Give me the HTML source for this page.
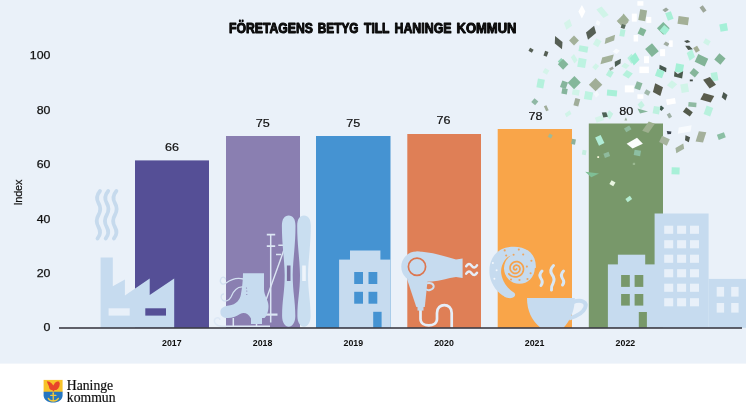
<!DOCTYPE html>
<html lang="sv">
<head>
<meta charset="utf-8">
<title>Företagens betyg till Haninge kommun</title>
<style>
html,body{margin:0;padding:0;background:#fff;}
body{width:746px;height:419px;overflow:hidden;position:relative;font-family:"Liberation Sans",sans-serif;}
svg{display:block;position:absolute;left:0;top:0;}
text{font-family:"Liberation Sans",sans-serif;fill:#111;}
text.serif{font-family:"Liberation Serif",serif;}
</style>
</head>
<body>
<svg width="746" height="419" viewBox="0 0 746 419">
<defs>
<filter id="soft" x="-2%" y="-2%" width="104%" height="104%"><feGaussianBlur stdDeviation="0.5"/></filter>
</defs>
<rect x="0" y="0" width="746" height="419" fill="#ffffff"/>
<g filter="url(#soft)">
<rect x="-5" y="-5" width="756" height="368.6" fill="#eaf1f9"/>
<!-- title -->
<g font-size="14.2" font-weight="700" fill="#000" stroke="#000" stroke-width="0.95" stroke-linejoin="round" style="fill:#000">
<text x="229" y="33.1" textLength="84.0" lengthAdjust="spacingAndGlyphs">FÖRETAGENS</text><text x="317.8" y="33.1" textLength="40.7" lengthAdjust="spacingAndGlyphs">BETYG</text><text x="364" y="33.1" textLength="25.5" lengthAdjust="spacingAndGlyphs">TILL</text><text x="394.5" y="33.1" textLength="57.0" lengthAdjust="spacingAndGlyphs">HANINGE</text><text x="456.5" y="33.1" textLength="60.0" lengthAdjust="spacingAndGlyphs">KOMMUN</text>
</g>
<!-- y axis labels -->
<g font-size="11.4" text-anchor="end" stroke="#111" stroke-width="0.25">
<text x="50.4" y="59.2" textLength="20.6" lengthAdjust="spacingAndGlyphs">100</text>
<text x="50.4" y="113.7" textLength="13.7" lengthAdjust="spacingAndGlyphs">80</text>
<text x="50.4" y="168.1" textLength="13.7" lengthAdjust="spacingAndGlyphs">60</text>
<text x="50.4" y="222.5" textLength="13.7" lengthAdjust="spacingAndGlyphs">40</text>
<text x="50.4" y="276.9" textLength="13.7" lengthAdjust="spacingAndGlyphs">20</text>
<text x="50.4" y="331.2" textLength="6.9" lengthAdjust="spacingAndGlyphs">0</text>
</g>
<text transform="translate(22.3,205.5) rotate(-90)" font-size="11" textLength="26" stroke="#111" stroke-width="0.2">Index</text>
<!-- bars -->
<rect x="135" y="160.4" width="74" height="167.6" fill="#544f96"/>
<rect x="226" y="136" width="74" height="192" fill="#8a7fb1"/>
<rect x="316" y="136" width="74.5" height="192" fill="#4593d2"/>
<rect x="407.3" y="134" width="73.7" height="194" fill="#df7f57"/>
<rect x="497.7" y="129" width="74.3" height="199" fill="#f9a549"/>
<rect x="588.8" y="123.5" width="74.2" height="204.5" fill="#78986b"/>
<!-- value labels -->
<g font-size="11.4" text-anchor="middle" stroke="#111" stroke-width="0.2">
<text x="172" y="150.8" textLength="14" lengthAdjust="spacingAndGlyphs">66</text>
<text x="262.7" y="127.2" textLength="14" lengthAdjust="spacingAndGlyphs">75</text>
<text x="353.2" y="127.2" textLength="14" lengthAdjust="spacingAndGlyphs">75</text>
<text x="443.6" y="124.2" textLength="14" lengthAdjust="spacingAndGlyphs">76</text>
<text x="535.4" y="120" textLength="14" lengthAdjust="spacingAndGlyphs">78</text>
<text x="626.2" y="115" textLength="14" lengthAdjust="spacingAndGlyphs">80</text>
</g>
<!-- icons -->
<g id="icons">
<path d="M100.0,191 q-5,6 -1.5,12 q3.5,6 0,12 q-3.5,6 0,12 q3.5,6 -1,11.5" fill="none" stroke="#c6daed" stroke-width="3.8" stroke-linecap="round"/>
<path d="M108.2,191 q-5,6 -1.5,12 q3.5,6 0,12 q-3.5,6 0,12 q3.5,6 -1,11.5" fill="none" stroke="#c6daed" stroke-width="3.8" stroke-linecap="round"/>
<path d="M116.4,191 q-5,6 -1.5,12 q3.5,6 0,12 q-3.5,6 0,12 q3.5,6 -1,11.5" fill="none" stroke="#c6daed" stroke-width="3.8" stroke-linecap="round"/>
<polygon points="100.6,257.6 112.8,257.6 112.8,286.3 124.9,279.6 124.9,295.5 149.7,278.6 149.7,294.9 174.2,278.6 174.2,327.8 100.6,327.8" fill="#c6dbef"/>
<rect x="108.6" y="308.3" width="21.1" height="7.3" fill="#e8f0f9"/>
<rect x="145.3" y="308.3" width="20.7" height="7.3" fill="#544f96"/>
<g stroke="#dbe6f4" fill="none" stroke-linecap="butt"><path d="M285,247 L266,300" stroke-width="1.4"/><path d="M278.3,245.3 h5.2 M276,254.6 h5.2" stroke-width="1.5"/><path d="M270.7,234.6 V322.5" stroke-width="1.5"/><path d="M266.8,234.6 h8.4 M266.8,246.2 h8.4" stroke-width="1.8"/><path d="M265.5,314.6 h12" stroke-width="2.2"/></g>
<path d="M288.7,215.5 C293.0,215.5 295.5,219 295.5,226 C295.5,245 292.9,260 292.7,275 C292.7,292 295.3,300 295.3,316 C295.3,322.5 292.3,326.8 288.7,326.8 C285.09999999999997,326.8 282.09999999999997,322.5 282.09999999999997,316 C282.09999999999997,300 284.7,292 284.7,275 C284.5,260 281.9,245 281.9,226 C281.9,219 284.4,215.5 288.7,215.5 Z" fill="#c6dbef"/><rect x="286.9" y="265.5" width="3.6" height="15.5" fill="#7a6e9f"/>
<path d="M304.0,215.5 C308.3,215.5 310.8,219 310.8,226 C310.8,245 308.2,260 308.0,275 C308.0,292 310.6,300 310.6,316 C310.6,322.5 307.6,326.8 304.0,326.8 C300.4,326.8 297.4,322.5 297.4,316 C297.4,300 300.0,292 300.0,275 C299.8,260 297.2,245 297.2,226 C297.2,219 299.7,215.5 304.0,215.5 Z" fill="#c9def0"/><rect x="302.2" y="265.5" width="3.6" height="15.5" fill="#eef4fb"/>
<g stroke="#d3e1f1" fill="none" stroke-width="1.3" stroke-linecap="round"><path d="M243.5,279 C236,277 230,280 226,283 C222,286 219,282 221,278.5 C222,276.5 225,276.5 225.5,279"/><path d="M243.5,287 C236,286 233,292 231,297 C229,301 225,302 222.5,300 C220,298 221,294 223.5,294"/></g>
<path d="M243,273.2 L264,273.2 L264,289 C264,296 268.5,300 268.5,306 C268.5,312 266.5,316 264.5,318 L262,318 L262,324 L251,324 L251,318.5 C248,313 244,312 240,314 C236,316.5 232,318 228,318 C223,318 220.4,316 220.4,312 C220.4,308 224,306 229,305.5 C236,304.5 240,300 241,294 C242,288 243,280 243,273.2 Z" fill="#c6dbef"/>
<circle cx="246.5" cy="288" r="0.6" fill="#8a7fb1"/><circle cx="246.8" cy="291" r="0.6" fill="#8a7fb1"/><circle cx="246.8" cy="294.5" r="0.6" fill="#8a7fb1"/>
<g stroke="#dde8f5" fill="none" stroke-width="1.5"><path d="M270,326.3 H222 C216,326.3 213,322 215,319 C216.5,316.8 220,317.5 220,320"/><path d="M233.3,318 V326 M256.5,324 V326"/></g>
<rect x="339.1" y="259.6" width="51.3" height="68.2" fill="#c6dbef"/>
<rect x="350.0" y="250.5" width="30.4" height="9.5" fill="#c6dbef"/>
<rect x="354.2" y="272.0" width="8.8" height="12.0" fill="#4593d2"/>
<rect x="354.2" y="291.8" width="8.8" height="11.9" fill="#4593d2"/>
<rect x="368.5" y="272.0" width="8.8" height="12.0" fill="#4593d2"/>
<rect x="368.5" y="291.8" width="8.8" height="11.9" fill="#4593d2"/>
<rect x="373.2" y="311.8" width="8.4" height="16.0" fill="#4593d2"/>
<path d="M420.5,310 V319 C420.5,327.5 437,327.5 437,319 V313 C437,302.5 451.7,302.5 451.7,313 V327.5" fill="none" stroke="#e6eef8" stroke-width="2.7"/>
<path d="M427,283.2 C434.5,282 436,288.5 430,290 C428,290.5 426.8,290 426,289" fill="none" stroke="#cfe0f0" stroke-width="2"/>
<path d="M407,279 L427.5,281 L424.8,307 L416.3,307 Z" fill="#c6dbef"/>
<rect x="417.5" y="306.0" width="6.0" height="4.6" fill="#c6dbef"/>
<circle cx="416.5" cy="266.8" r="15.2" fill="#c6dbef"/>
<path d="M416.5,251.6 C432,251.6 445,257 456,259.5 L462.6,258.5 L462.6,278 L456,277 C448,278 440,281 432,281.5 L416.5,282 Z" fill="#c6dbef"/>
<circle cx="417" cy="266.8" r="8.6" fill="none" stroke="#dc7650" stroke-width="1.7"/>
<g fill="none" stroke="#e6eef8" stroke-width="2.5" stroke-linecap="round"><path d="M466.2,266.2 q2.7,-4 5.4,-0.4 t5.4,-0.4"/><path d="M466.2,273.6 q2.7,-4 5.4,-0.4 t5.4,-0.4"/></g>
<path d="M507,297.8 C499,294.5 491.5,286 489.8,276 C488,264 492.5,253.5 502,249 C511,245 524,246 530.5,252.5 C534.5,256.5 536.2,262 535.8,268 L530,268 C528,258 520,254 512,255.5 C509,256 507.5,257 506.2,258.5 C502,263 500.5,269 501.3,274 C502.5,282 508,289 514.5,293 C516.5,295.5 514,299.5 507,297.8 Z" fill="#c6dbef"/>
<circle cx="519.4" cy="268.3" r="15.4" fill="#c6dbef"/>
<path d="M516.6,268.9 L516.5,269.0 L516.5,269.2 L516.4,269.3 L516.3,269.5 L516.1,269.6 L515.9,269.7 L515.7,269.8 L515.4,269.9 L515.2,269.8 L514.9,269.8 L514.6,269.7 L514.4,269.5 L514.1,269.3 L513.9,269.0 L513.8,268.7 L513.6,268.3 L513.6,268.0 L513.6,267.6 L513.7,267.2 L513.8,266.8 L514.1,266.4 L514.4,266.1 L514.7,265.8 L515.1,265.5 L515.6,265.3 L516.1,265.2 L516.6,265.2 L517.2,265.3 L517.7,265.5 L518.2,265.7 L518.7,266.0 L519.1,266.5 L519.4,267.0 L519.7,267.5 L519.9,268.1 L520.0,268.8 L519.9,269.5 L519.8,270.1 L519.5,270.8 L519.2,271.4 L518.7,272.0 L518.2,272.4 L517.5,272.8 L516.8,273.1 L516.0,273.3 L515.2,273.3 L514.4,273.3 L513.6,273.1 L512.9,272.7 L512.2,272.2 L511.5,271.6 L511.0,270.9 L510.5,270.1 L510.2,269.3 L510.1,268.4 L510.1,267.4 L510.2,266.5 L510.5,265.5 L511.0,264.7 L511.6,263.9 L512.3,263.2 L513.2,262.6 L514.1,262.1 L515.1,261.8 L516.2,261.7 L517.3,261.7 L518.3,261.9 L519.4,262.3 L520.4,262.9 L521.3,263.6 L522.0,264.5 L522.7,265.5 L523.1,266.6 L523.4,267.8 L523.5,269.0 L523.4,270.2 L523.1,271.4 L522.6,272.6 L521.9,273.7 L521.1,274.6 L520.0,275.5 L518.9,276.1 L517.6,276.6 L516.3,276.8 L515.0,276.9 L513.6,276.7 L512.2,276.3 L511.0,275.7 L509.8,274.9 L508.8,273.9" fill="none" stroke="#f6a24c" stroke-width="1.7" stroke-linecap="round"/>
<circle cx="504.7" cy="250.4" r="1.05" fill="#eea55e"/>
<circle cx="518.8" cy="249.6" r="1.05" fill="#eea55e"/>
<circle cx="506.2" cy="255.5" r="1.05" fill="#eea55e"/>
<circle cx="513.6" cy="254.8" r="1.05" fill="#eea55e"/>
<circle cx="523.2" cy="254.5" r="1.05" fill="#eea55e"/>
<circle cx="531.4" cy="260.7" r="1.05" fill="#eea55e"/>
<circle cx="526.9" cy="266.6" r="1.05" fill="#eea55e"/>
<circle cx="530.6" cy="273.3" r="1.05" fill="#eea55e"/>
<circle cx="519.5" cy="280" r="1.05" fill="#eea55e"/>
<circle cx="511" cy="279.5" r="1.05" fill="#eea55e"/>
<circle cx="527.5" cy="279" r="1.05" fill="#eea55e"/>
<circle cx="492.9" cy="263" r="1" fill="#f2f7fc"/>
<circle cx="496.6" cy="270.3" r="1" fill="#f2f7fc"/>
<circle cx="494.4" cy="278.8" r="1" fill="#f2f7fc"/>
<g fill="none" stroke="#d9e7f4" stroke-width="3" stroke-linecap="round"><path d="M542,271 q-3.5,3.5 -1,7.5 q2.5,3.5 0,7"/><path d="M553.5,265.5 q-4.5,4.5 -1.5,9 q3.5,4.5 1,9 q-2,3 -1.5,6.5"/><path d="M563.5,271 q-3.5,3.5 -1,7.5 q2.5,3.5 0,6.5"/></g>
<path d="M573,302 C582,299 587.5,302.5 585,308 C583,313 576,316.5 569,318.5" fill="none" stroke="#c6dbef" stroke-width="4"/>
<path d="M527,298.1 L574.8,298.1 C574.8,311 570,321 563.5,327.8 L540.5,327.8 C532,321 527,311 527,298.1 Z" fill="#c6dbef"/>
<rect x="654.6" y="213.5" width="54.0" height="114.3" fill="#c6dbef"/>
<rect x="607.9" y="264.4" width="47.1" height="63.4" fill="#c6dbef"/>
<rect x="617.9" y="254.7" width="27.3" height="10.3" fill="#c6dbef"/>
<rect x="708.5" y="278.9" width="37.5" height="48.9" fill="#c6dbef"/>
<rect x="621.1" y="275.0" width="8.7" height="11.9" fill="#78986b"/>
<rect x="621.1" y="294.0" width="8.7" height="11.6" fill="#78986b"/>
<rect x="634.6" y="275.0" width="8.7" height="11.9" fill="#78986b"/>
<rect x="634.6" y="294.0" width="8.7" height="11.6" fill="#78986b"/>
<rect x="638.8" y="312.0" width="8.1" height="15.8" fill="#78986b"/>
<rect x="664.2" y="225.7" width="9.0" height="8.1" fill="#e8f0f9"/>
<rect x="664.2" y="240.2" width="9.0" height="8.1" fill="#e8f0f9"/>
<rect x="664.2" y="254.7" width="9.0" height="8.1" fill="#e8f0f9"/>
<rect x="664.2" y="269.2" width="9.0" height="8.1" fill="#e8f0f9"/>
<rect x="664.2" y="283.7" width="9.0" height="8.1" fill="#e8f0f9"/>
<rect x="664.2" y="298.2" width="9.0" height="8.1" fill="#e8f0f9"/>
<rect x="677.1" y="225.7" width="9.0" height="8.1" fill="#e8f0f9"/>
<rect x="677.1" y="240.2" width="9.0" height="8.1" fill="#e8f0f9"/>
<rect x="677.1" y="254.7" width="9.0" height="8.1" fill="#e8f0f9"/>
<rect x="677.1" y="269.2" width="9.0" height="8.1" fill="#e8f0f9"/>
<rect x="677.1" y="283.7" width="9.0" height="8.1" fill="#e8f0f9"/>
<rect x="677.1" y="298.2" width="9.0" height="8.1" fill="#e8f0f9"/>
<rect x="690.0" y="225.7" width="9.0" height="8.1" fill="#e8f0f9"/>
<rect x="690.0" y="240.2" width="9.0" height="8.1" fill="#e8f0f9"/>
<rect x="690.0" y="254.7" width="9.0" height="8.1" fill="#e8f0f9"/>
<rect x="690.0" y="269.2" width="9.0" height="8.1" fill="#e8f0f9"/>
<rect x="690.0" y="283.7" width="9.0" height="8.1" fill="#e8f0f9"/>
<rect x="690.0" y="298.2" width="9.0" height="8.1" fill="#e8f0f9"/>
<rect x="716.7" y="286.9" width="7.4" height="9.7" fill="#e8f0f9"/>
<rect x="716.7" y="303.0" width="7.4" height="9.6" fill="#e8f0f9"/>
<rect x="731.2" y="286.9" width="7.4" height="9.7" fill="#e8f0f9"/>
<rect x="731.2" y="303.0" width="7.4" height="9.6" fill="#e8f0f9"/>
</g>
<!-- axis -->
<rect x="59" y="327.2" width="683" height="1.6" fill="#3c3c46"/>
<!-- years -->
<g font-size="9.6" font-weight="700" text-anchor="middle">
<text x="171.8" y="346.3" textLength="19.6" lengthAdjust="spacingAndGlyphs">2017</text><text x="262.6" y="346.3" textLength="19.6" lengthAdjust="spacingAndGlyphs">2018</text><text x="353.3" y="346.3" textLength="19.6" lengthAdjust="spacingAndGlyphs">2019</text><text x="444" y="346.3" textLength="19.6" lengthAdjust="spacingAndGlyphs">2020</text><text x="534.6" y="346.3" textLength="19.6" lengthAdjust="spacingAndGlyphs">2021</text><text x="625.4" y="346.3" textLength="19.6" lengthAdjust="spacingAndGlyphs">2022</text>
</g>
<!-- confetti -->
<g id="confetti">
<rect x="-5.5" y="-3.0" width="11" height="6" fill="#d0f4e8" transform="translate(602.5,12.2) rotate(50) skewX(-10)"/>
<rect x="-3.5" y="-3.5" width="7" height="7" fill="#d5f4ea" transform="translate(568,24.4) rotate(-35) skewX(-15)"/>
<rect x="-3.5" y="-3.5" width="7" height="7" fill="#a3b19a" transform="translate(574,40.5) rotate(45) skewX(0)"/>
<rect x="-5.0" y="-2.5" width="10" height="5" fill="#a3b19a" transform="translate(609.9,39.4) rotate(-20) skewX(-30)"/>
<rect x="-4.5" y="-4.0" width="9" height="8" fill="#a3b19a" transform="translate(622.7,21.4) rotate(45) skewX(0)"/>
<rect x="-2.0" y="-2.0" width="4" height="4" fill="#5b6e5e" transform="translate(623.2,26.5) rotate(20) skewX(0)"/>
<rect x="-2.5" y="-3.5" width="5" height="7" fill="#b8f1dd" transform="translate(622.4,32.9) rotate(10) skewX(0)"/>
<rect x="-3.0" y="-3.5" width="6" height="7" fill="#d0f4e8" transform="translate(597.2,42.8) rotate(30) skewX(0)"/>
<rect x="-4.5" y="-3.0" width="9" height="6" fill="#b8f1dd" transform="translate(583.4,48.9) rotate(10) skewX(0)"/>
<rect x="-2.0" y="-1.8" width="4" height="3.5" fill="#555f54" transform="translate(531,50.4) rotate(30) skewX(0)"/>
<rect x="-1.8" y="-2.5" width="3.5" height="5" fill="#555f54" transform="translate(546,53.8) rotate(20) skewX(0)"/>
<rect x="-2.0" y="-2.0" width="4" height="4" fill="#f6fafd" transform="translate(598,23) rotate(30) skewX(10)"/>
<rect x="-6.0" y="-3.0" width="12" height="6" fill="#a3b19a" transform="translate(607.1,59.3) rotate(-15) skewX(-30)"/>
<rect x="-3.5" y="-2.5" width="7" height="5" fill="#94d6b8" transform="translate(562,62.3) rotate(45) skewX(0)"/>
<rect x="-2.2" y="-3.5" width="4.5" height="7" fill="#d0f4e8" transform="translate(574.2,58.8) rotate(-45) skewX(-15)"/>
<rect x="-3.0" y="-3.5" width="6" height="7" fill="#b8f1dd" transform="translate(631.5,58.8) rotate(-45) skewX(-10)"/>
<rect x="-2.2" y="-2.2" width="4.5" height="4.5" fill="#f8fbfe" transform="translate(616.3,51.2) rotate(30) skewX(-15)"/>
<rect x="-3.5" y="-5.5" width="7" height="11" fill="#9fae96" transform="translate(642.7,15.3) rotate(10) skewX(0)"/>
<rect x="-3.0" y="-2.2" width="6" height="4.5" fill="#ffffff" transform="translate(640.4,3.4) rotate(0) skewX(0)"/>
<rect x="-2.5" y="-4.0" width="5" height="8" fill="#ffffff" transform="translate(634.3,17.6) rotate(0) skewX(0)"/>
<rect x="-2.5" y="-3.0" width="5" height="6" fill="#ffffff" transform="translate(648.8,19.9) rotate(0) skewX(0)"/>
<rect x="-2.2" y="-1.8" width="4.5" height="3.5" fill="#9ba79c" transform="translate(665.6,9.9) rotate(-35) skewX(15)"/>
<rect x="-3.0" y="-4.0" width="6" height="8" fill="#a8efd6" transform="translate(669.4,16) rotate(-20) skewX(0)"/>
<rect x="-5.2" y="-4.0" width="10.5" height="8" fill="#a4b097" transform="translate(683.2,20.6) rotate(8) skewX(0)"/>
<rect x="-2.0" y="-3.2" width="4" height="6.5" fill="#9da79a" transform="translate(703,8.9) rotate(-35) skewX(0)"/>
<rect x="-3.8" y="-3.8" width="7.5" height="7.5" fill="#a5f0d8" transform="translate(723.7,27.5) rotate(-10) skewX(0)"/>
<rect x="-4.5" y="-4.5" width="9" height="9" fill="#7fb89a" transform="translate(663.3,28.3) rotate(45) skewX(0)"/>
<rect x="-3.5" y="-3.5" width="7" height="7" fill="#a5efd5" transform="translate(664.6,30) rotate(40) skewX(0)"/>
<rect x="-3.2" y="-3.5" width="6.5" height="7" fill="#82b698" transform="translate(641.9,31.8) rotate(25) skewX(0)"/>
<rect x="-2.2" y="-3.2" width="4.5" height="6.5" fill="#ffffff" transform="translate(635.8,38.2) rotate(0) skewX(0)"/>
<rect x="-2.2" y="-1.8" width="4.5" height="3.5" fill="#a0aca0" transform="translate(666.4,44) rotate(30) skewX(-10)"/>
<rect x="-1.8" y="-3.2" width="3.5" height="6.5" fill="#ffffff" transform="translate(671,43.6) rotate(0) skewX(0)"/>
<rect x="-2.2" y="-2.8" width="4.5" height="5.5" fill="#a3ad93" transform="translate(696.5,49.2) rotate(-30) skewX(0)"/>
<rect x="-3.0" y="-2.5" width="6" height="5" fill="#d0f4e8" transform="translate(706.9,42) rotate(30) skewX(0)"/>
<rect x="-5.2" y="-4.5" width="10.5" height="9" fill="#82b599" transform="translate(651.9,50.1) rotate(50) skewX(0)"/>
<rect x="-2.5" y="-3.5" width="5" height="7" fill="#ffffff" transform="translate(662.6,52.7) rotate(0) skewX(0)"/>
<rect x="-3.2" y="-4.0" width="6.5" height="8" fill="#b5f2dd" transform="translate(690.8,55) rotate(-35) skewX(-15)"/>
<rect x="-5.5" y="-4.2" width="11" height="8.5" fill="#82b497" transform="translate(701.5,60.2) rotate(25) skewX(0)"/>
<rect x="-4.0" y="-4.0" width="8" height="8" fill="#82b497" transform="translate(719.9,59) rotate(40) skewX(0)"/>
<rect x="-4.0" y="-4.0" width="8" height="8" fill="#9eeed3" transform="translate(634.6,59) rotate(-45) skewX(-15)"/>
<rect x="-2.5" y="-3.5" width="5" height="7" fill="#ffffff" transform="translate(646.5,59.7) rotate(0) skewX(0)"/>
<rect x="-3.8" y="-3.8" width="7.5" height="7.5" fill="#84b79b" transform="translate(563.1,64.4) rotate(45) skewX(0)"/>
<rect x="-4.0" y="-4.5" width="8" height="9" fill="#bdf3e1" transform="translate(581.9,62.9) rotate(10) skewX(0)"/>
<rect x="-2.2" y="-2.8" width="4.5" height="5.5" fill="#d0f4e8" transform="translate(595.6,66.7) rotate(40) skewX(0)"/>
<rect x="-2.8" y="-3.2" width="5.5" height="6.5" fill="#b8f1dd" transform="translate(609.9,73.6) rotate(30) skewX(0)"/>
<rect x="-2.0" y="-1.2" width="4" height="2.5" fill="#9fa89f" transform="translate(611.4,68.5) rotate(-30) skewX(0)"/>
<rect x="-2.5" y="-2.8" width="5" height="5.5" fill="#d0f4e8" transform="translate(625.4,65.9) rotate(-45) skewX(15)"/>
<rect x="-3.5" y="-3.2" width="7" height="6.5" fill="#b5f1dc" transform="translate(627.7,74.3) rotate(30) skewX(-10)"/>
<rect x="-3.5" y="-4.5" width="7" height="9" fill="#b4f1dc" transform="translate(540.6,83.5) rotate(10) skewX(0)"/>
<rect x="-2.5" y="-2.5" width="5" height="5" fill="#d5f4ea" transform="translate(546,71.3) rotate(30) skewX(0)"/>
<rect x="-4.5" y="-4.8" width="9" height="9.5" fill="#84b79b" transform="translate(574.2,82.7) rotate(45) skewX(0)"/>
<rect x="-3.0" y="-3.5" width="6" height="7" fill="#86b59c" transform="translate(564,84.7) rotate(20) skewX(0)"/>
<rect x="-2.8" y="-2.8" width="5.5" height="5.5" fill="#86b59c" transform="translate(564.6,91.3) rotate(10) skewX(0)"/>
<rect x="-4.8" y="-4.8" width="9.5" height="9.5" fill="#a1ae97" transform="translate(595.6,84.7) rotate(45) skewX(0)"/>
<rect x="-3.5" y="-2.8" width="7" height="5.5" fill="#d0f4e8" transform="translate(575.8,92.4) rotate(10) skewX(0)"/>
<rect x="-4.0" y="-4.0" width="8" height="8" fill="#bdf3e1" transform="translate(588.5,95.7) rotate(10) skewX(0)"/>
<rect x="-5.0" y="-3.0" width="10" height="6" fill="#a8f0d8" transform="translate(612,93) rotate(5) skewX(0)"/>
<rect x="-4.5" y="-3.5" width="9" height="7" fill="#ffffff" transform="translate(629.3,88.9) rotate(0) skewX(0)"/>
<rect x="-2.5" y="-3.8" width="5" height="7.5" fill="#a0ad9a" transform="translate(576.8,102.3) rotate(15) skewX(0)"/>
<rect x="-2.5" y="-2.5" width="5" height="5" fill="#8fb8a4" transform="translate(534.8,101.8) rotate(40) skewX(0)"/>
<rect x="-1.4" y="-2.8" width="2.8" height="5.5" fill="#a0ad9a" transform="translate(546.3,108.3) rotate(-25) skewX(0)"/>
<rect x="-2.8" y="-3.2" width="5.5" height="6.5" fill="#c6f2e3" transform="translate(609.6,114.8) rotate(40) skewX(10)"/>
<rect x="-3.0" y="-2.0" width="6" height="4" fill="#d0f4e8" transform="translate(568.1,113.8) rotate(-35) skewX(-10)"/>
<rect x="-2.2" y="-2.2" width="4.5" height="4.5" fill="#f3f8fc" transform="translate(596.4,94.2) rotate(-45) skewX(-15)"/>
<rect x="-4.8" y="-3.2" width="9.5" height="6.5" fill="#ffffff" transform="translate(644.2,69.8) rotate(0) skewX(0)"/>
<rect x="-4.0" y="-4.2" width="8" height="8.5" fill="#a5f0d6" transform="translate(679.4,68.2) rotate(10) skewX(0)"/>
<rect x="-3.8" y="-2.0" width="7.5" height="4" fill="#47594f" transform="translate(662.9,68.6) rotate(25) skewX(20)"/>
<rect x="-3.8" y="-3.8" width="7.5" height="7.5" fill="#a5f0d6" transform="translate(659.8,73.6) rotate(20) skewX(0)"/>
<rect x="-3.5" y="-3.2" width="7" height="6.5" fill="#86b69b" transform="translate(694.3,72.8) rotate(40) skewX(0)"/>
<rect x="-3.2" y="-4.2" width="6.5" height="8.5" fill="#b5f1dc" transform="translate(714.5,76.6) rotate(-10) skewX(0)"/>
<rect x="-1.5" y="-0.9" width="3" height="1.8" fill="#3f4a45" transform="translate(691.3,80.4) rotate(0) skewX(0)"/>
<rect x="-3.0" y="-3.8" width="6" height="7.5" fill="#8bb89f" transform="translate(638.4,85.8) rotate(20) skewX(0)"/>
<rect x="-3.5" y="-3.2" width="7" height="6.5" fill="#d0f4e8" transform="translate(672,84.7) rotate(-45) skewX(10)"/>
<rect x="-3.8" y="-4.2" width="7.5" height="8.5" fill="#d0f4e8" transform="translate(684.7,88.1) rotate(-10) skewX(0)"/>
<rect x="-2.5" y="-2.2" width="5" height="4.5" fill="#a0b8aa" transform="translate(647.3,92.4) rotate(30) skewX(0)"/>
<rect x="-3.0" y="-2.2" width="6" height="4.5" fill="#ffffff" transform="translate(640.4,96.5) rotate(0) skewX(0)"/>
<rect x="-4.5" y="-2.8" width="9" height="5.5" fill="#ffffff" transform="translate(671,101.5) rotate(-10) skewX(0)"/>
<rect x="-4.0" y="-2.2" width="8" height="4.5" fill="#8fbaa2" transform="translate(692.4,104.6) rotate(5) skewX(0)"/>
<rect x="-3.5" y="-4.5" width="7" height="9" fill="#b8f1dd" transform="translate(708.4,111) rotate(20) skewX(0)"/>
<rect x="-2.0" y="-2.0" width="4" height="4" fill="#3f5a4f" transform="translate(661.3,108.2) rotate(40) skewX(0)"/>
<rect x="-3.2" y="-3.8" width="6.5" height="7.5" fill="#bdf1df" transform="translate(656.4,110.2) rotate(10) skewX(0)"/>
<rect x="-2.8" y="-2.8" width="5.5" height="5.5" fill="#c6f2e3" transform="translate(641.2,104.9) rotate(-45) skewX(-10)"/>
<rect x="-1.8" y="-2.2" width="3.5" height="4.5" fill="#9fb0a5" transform="translate(669.4,115.6) rotate(-30) skewX(0)"/>
<rect x="-1.8" y="-1.8" width="3.6" height="3.6" fill="#a0b996" transform="translate(550.3,136) rotate(30) skewX(0)"/>
<rect x="-2.0" y="-2.8" width="4" height="5.5" fill="#8db09a" transform="translate(573.5,141.8) rotate(10) skewX(0)"/>
<rect x="-2.0" y="-2.5" width="4" height="5" fill="#c5eee0" transform="translate(584.2,152.5) rotate(10) skewX(0)"/>
<rect x="-3.0" y="-4.5" width="6" height="9" fill="#b0ecd5" transform="translate(599.8,140.3) rotate(-25) skewX(0)"/>
<rect x="-2.8" y="-2.2" width="5.5" height="4.5" fill="#8fba9c" transform="translate(606.8,154.8) rotate(-20) skewX(0)"/>
<rect x="-0.9" y="-0.9" width="1.8" height="1.8" fill="#f5f6d8" transform="translate(598.2,157.1) rotate(0) skewX(0)"/>
<rect x="-3.0" y="-2.2" width="6" height="4.5" fill="#8fba9c" transform="translate(627.7,128.8) rotate(-30) skewX(0)"/>
<rect x="-4.0" y="-2.8" width="8" height="5.5" fill="#d6f4ea" transform="translate(599.5,118.9) rotate(-20) skewX(0)"/>
<rect x="-3.2" y="-5.5" width="6.5" height="11" fill="#9eb08f" transform="translate(648.5,127.3) rotate(20) skewX(-15)"/>
<rect x="-3.2" y="-2.8" width="6.5" height="5.5" fill="#8dbfa3" transform="translate(637.3,153) rotate(10) skewX(0)"/>
<rect x="-1.0" y="-1.0" width="2" height="2" fill="#9ab890" transform="translate(633.8,164) rotate(0) skewX(0)"/>
<rect x="-4.2" y="-3.5" width="8.5" height="7" fill="#a7b49e" transform="translate(664.4,140.7) rotate(25) skewX(0)"/>
<rect x="-6.5" y="-3.0" width="13" height="6" fill="#f8fbfe" transform="translate(684.7,129.6) rotate(-10) skewX(-20)"/>
<rect x="-3.8" y="-5.2" width="7.5" height="10.5" fill="#a4b09b" transform="translate(701,136.8) rotate(8) skewX(-10)"/>
<rect x="-3.8" y="-2.8" width="7.5" height="5.5" fill="#8bbfa4" transform="translate(721.4,136.1) rotate(-20) skewX(0)"/>
<rect x="-4.5" y="-2.5" width="9" height="5" fill="#a3b29c" transform="translate(679.8,148.4) rotate(-30) skewX(-20)"/>
<rect x="-4.0" y="-3.5" width="8" height="7" fill="#a8f0d8" transform="translate(675.6,170.8) rotate(2) skewX(0)"/>
<rect x="-2.2" y="-2.2" width="4.5" height="4.5" fill="#e8f5e0" transform="translate(612.4,183.2) rotate(30) skewX(0)"/>
<rect x="-2.8" y="-2.0" width="5.5" height="4" fill="#b5ecd0" transform="translate(628.8,199) rotate(-35) skewX(0)"/>
<rect x="-1.0" y="-1.0" width="2" height="2" fill="#9ab88f" transform="translate(634.1,163.8) rotate(0) skewX(0)"/>
<polygon points="626.6,143.7 637,137.7 642.9,143.7 632.6,148.6" fill="#fbfdfb"/>
<polygon points="625.9,117.2 627.2,120.6 624.4,120.4" fill="#9fb3a0"/>
<polygon points="581.9,5 585.4,11.5 581.9,18.5 578.4,11.5" fill="#ffffff"/>
<polygon points="594.1,25.7 596.1,32.9 588,39.7 586,32.4" fill="#565f54"/>
<polygon points="555.1,35.9 562.5,42 562,49.2 554.8,43.6" fill="#565f54"/>
<polygon points="614.7,61.8 620.9,58.8 620.5,63.6 615,67" fill="#4e6054"/>
<polygon points="684,41 687.8,40 690.4,42 686.6,43.1" fill="#4b544d"/>
<polygon points="685.2,45.8 689.3,45.8 692.8,49.2 688.2,50.1" fill="#4b544d"/>
<polygon points="674.5,71.3 677.8,74 683.2,71.3 682.1,78.6 674,76.6" fill="#4c5a4e"/>
<polygon points="703.1,79.7 709.9,77.1 716,84.7 709.6,88.4" fill="#585c4e"/>
<polygon points="655.2,83.2 663,87.3 660.3,96 652.9,91.9" fill="#585c4e"/>
<polygon points="703.8,93 714.2,96 710.7,102.6 700.3,99.6" fill="#5a5c4d"/>
<polygon points="723.4,91.9 727.5,95 725.5,100.6 721.7,97.3" fill="#4c584f"/>
<polygon points="686.2,107.2 692.8,112.2 689.8,116.4 682.9,111.8" fill="#535a4c"/>
<polygon points="601.8,112.5 606.3,112.2 607.9,116.8 603.3,117.4" fill="#4d6357"/>
<polygon points="666.8,131.1 671.4,131.6 671,133.9 667.5,134.2" fill="#3e4550"/>
<polygon points="685.5,135.2 690.1,137.2 688.8,142.3 685,140.3" fill="#4f584f"/>
<polygon points="585.2,171.8 599,173.4 591.3,177.2" fill="#7fbf96"/>
<polygon points="637.5,108.5 648,111.5 640,113.5" fill="#86b69b"/>
<polygon points="623.5,13.5 629.5,20.5 618,23" fill="#9fb096"/>
</g>
<!-- logo -->
<g id="logo">
<path d="M43.6,379.9 H62.6 V392.2 H43.6 Z" fill="#f7c32c"/>
<path d="M43.6,391.8 H62.6 V395.2 C62.6,399.6 58.6,402.6 53.1,402.6 C47.6,402.6 43.6,399.6 43.6,395.2 Z" fill="#2676c0"/>
<polygon points="46.8,381.2 49.5,381.8 51.8,383.6 53.3,385.4 55,382.8 57,381.4 59,381.6 59.8,383.6 59.4,386.2 58.2,388.6 56.4,390 54.6,390 53.6,391.4 52.4,390.2 50.6,389.8 49.4,388.4 48.8,386 47.6,383.6" fill="#e8452a"/>
<g stroke="#f2c83a" fill="none" stroke-width="1.3" stroke-linecap="round"><path d="M53.25,393.4 V400.8 M50.8,395.4 H55.9 M48.3,398.4 C49.3,400.4 51,401 53.25,401 C55.5,401 57.2,400.4 58.4,398.4"/></g>
<circle cx="53.25" cy="393.1" r="0.9" fill="#f2c83a"/>
<text class="serif" x="66.8" y="390" font-size="13.6" textLength="46.4" lengthAdjust="spacingAndGlyphs" fill="#111" stroke="#111" stroke-width="0.2">Haninge</text>
<text class="serif" x="66.8" y="402.2" font-size="13.6" textLength="48.8" lengthAdjust="spacingAndGlyphs" fill="#111" stroke="#111" stroke-width="0.2">kommun</text>
</g>
</g>
</svg>
</body>
</html>
